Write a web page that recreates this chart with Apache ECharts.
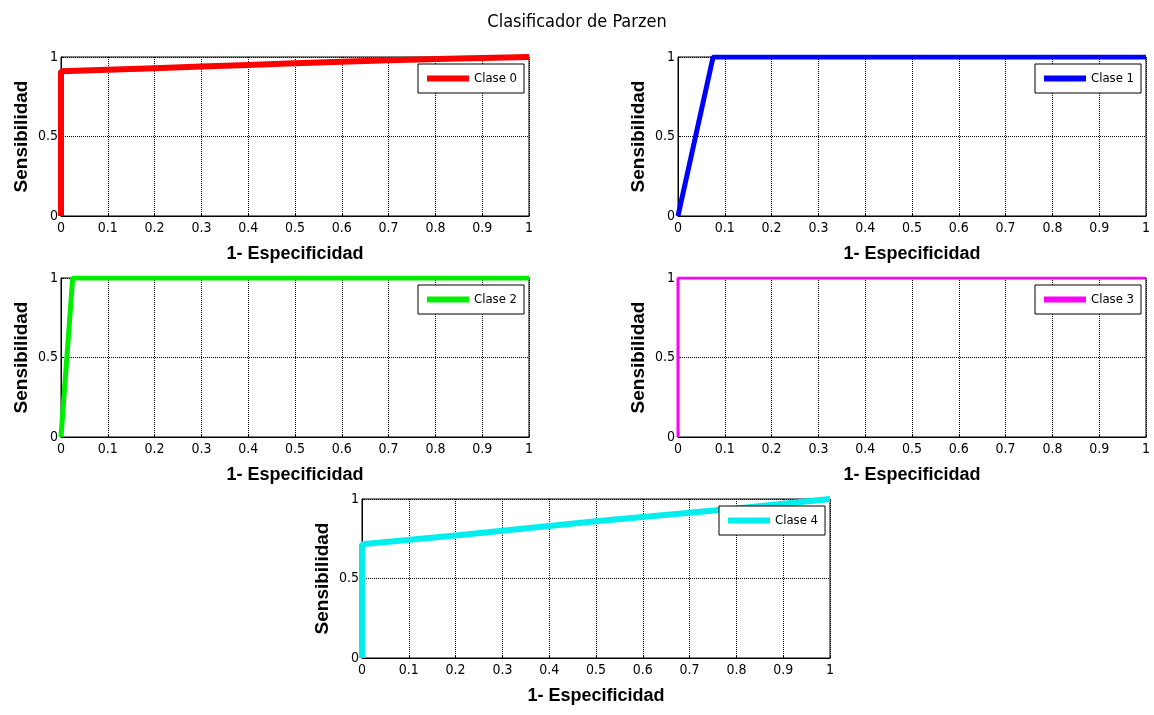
<!DOCTYPE html>
<html>
<head>
<meta charset="utf-8">
<title>Clasificador de Parzen</title>
<script src="https://cdn.jsdelivr.net/npm/echarts@6/dist/echarts.min.js"></script>
<style>
  html, body { margin: 0; padding: 0; background: #fff; }
  #chart { width: 1154px; height: 715px; }
</style>
</head>
<body>
<div id="chart"></div>
<script>
// curvas ROC (1-especificidad, sensibilidad)
const clase0X = [0, 0, 0.1, 0.2, 0.3, 0.4, 0.5, 0.6, 0.7, 0.85, 1];
const clase0Y = [0, 0.91, 0.92, 0.93, 0.94, 0.95, 0.96, 0.97, 0.98, 0.99, 1];
const clase1X = [0, 0.075, 1];
const clase1Y = [0, 1, 1];
const clase2X = [0, 0.025, 1];
const clase2Y = [0, 1, 1];
const clase3X = [0, 0, 1];
const clase3Y = [0, 1, 1];
const clase4X = [0, 0, 0.2, 0.5, 0.8, 1];
const clase4Y = [0, 0.715, 0.77, 0.86, 0.94, 1];

const clases = ['Clase 0', 'Clase 1', 'Clase 2', 'Clase 3', 'Clase 4'];
const colores = ['#ff0000', '#0000ff', '#00ee00', '#ff00ff', '#00eeee'];
const grosores = [6, 5, 5, 3, 6];
const datosX = [clase0X, clase1X, clase2X, clase3X, clase4X];
const datosY = [clase0Y, clase1Y, clase2Y, clase3Y, clase4Y];

const narrow = "'Liberation Sans Narrow', 'DejaVu Sans Condensed', Arial, sans-serif";
const bold = "'Liberation Sans', Arial, sans-serif";

// posición de cada panel
const paneles = [
  { left: 61, top: 57 },
  { left: 678, top: 57 },
  { left: 61, top: 278 },
  { left: 678, top: 278 },
  { left: 362, top: 499 },
];
const W = 468, H = 159;

const chart = echarts.init(document.getElementById('chart'));

const grid = paneles.map((p) => ({
  left: p.left,
  top: p.top,
  width: W,
  height: H,
  show: true,
  borderColor: '#000',
  borderWidth: 1,
  backgroundColor: '#fff',
}));

const xAxis = paneles.map((p, i) => ({
  type: 'value',
  gridIndex: i,
  min: 0,
  max: 1,
  interval: 0.1,
  name: '1- Especificidad',
  nameLocation: 'middle',
  nameGap: 29,
  nameTextStyle: { fontFamily: bold, fontWeight: 'bold', fontSize: 18, color: '#000' },
  axisLine: { show: true, onZero: false, lineStyle: { color: '#000', width: 1 } },
  axisTick: { show: true, inside: true, length: 3, lineStyle: { color: '#000' } },
  axisLabel: {
    color: '#000',
    fontFamily: narrow,
    fontSize: 14,
    margin: 5,
    formatter: (v) => String(Math.round(v * 10) / 10),
  },
  splitLine: { show: true, lineStyle: { color: '#000', type: 'dotted', width: 1 } },
}));

const yAxis = paneles.map((p, i) => ({
  type: 'value',
  gridIndex: i,
  min: 0,
  max: 1,
  interval: 0.5,
  name: 'Sensibilidad',
  nameLocation: 'middle',
  nameGap: 30,
  nameTextStyle: { fontFamily: bold, fontWeight: 'bold', fontSize: 19, color: '#000' },
  axisLine: { show: true, onZero: false, lineStyle: { color: '#000', width: 1 } },
  axisTick: { show: true, inside: true, length: 3, lineStyle: { color: '#000' } },
  axisLabel: {
    color: '#000',
    fontFamily: narrow,
    fontSize: 14,
    margin: 3,
    formatter: (v) => String(v),
  },
  splitLine: { show: true, lineStyle: { color: '#000', type: 'dotted', width: 1 } },
}));

const series = clases.map((nombre, i) => ({
  name: nombre,
  type: 'line',
  xAxisIndex: i,
  yAxisIndex: i,
  showSymbol: false,
  animation: false,
  data: datosX[i].map((x, k) => [x, datosY[i][k]]),
  lineStyle: { color: colores[i], width: grosores[i] },
  itemStyle: { color: colores[i] },
}));

const legend = paneles.map((p, i) => ({
  data: [clases[i]],
  left: p.left + W - 111,
  top: p.top + 7,
  orient: 'horizontal',
  icon: 'rect',
  itemWidth: 42,
  itemHeight: 6,
  padding: [8, 7, 8, 9],
  borderColor: '#000',
  borderWidth: 1,
  backgroundColor: '#fff',
  borderRadius: 0,
  selectedMode: false,
  textStyle: { color: '#000', fontFamily: narrow, fontSize: 13 },
}));

chart.setOption({
  backgroundColor: '#fff',
  animation: false,
  title: {
    text: 'Clasificador de Parzen',
    left: 'center',
    top: 8,
    textStyle: { color: '#000', fontFamily: narrow, fontSize: 18, fontWeight: 'normal' },
  },
  grid,
  xAxis,
  yAxis,
  legend,
  series,
});

window.addEventListener('resize', () => chart.resize());
</script>
</body>
</html>
